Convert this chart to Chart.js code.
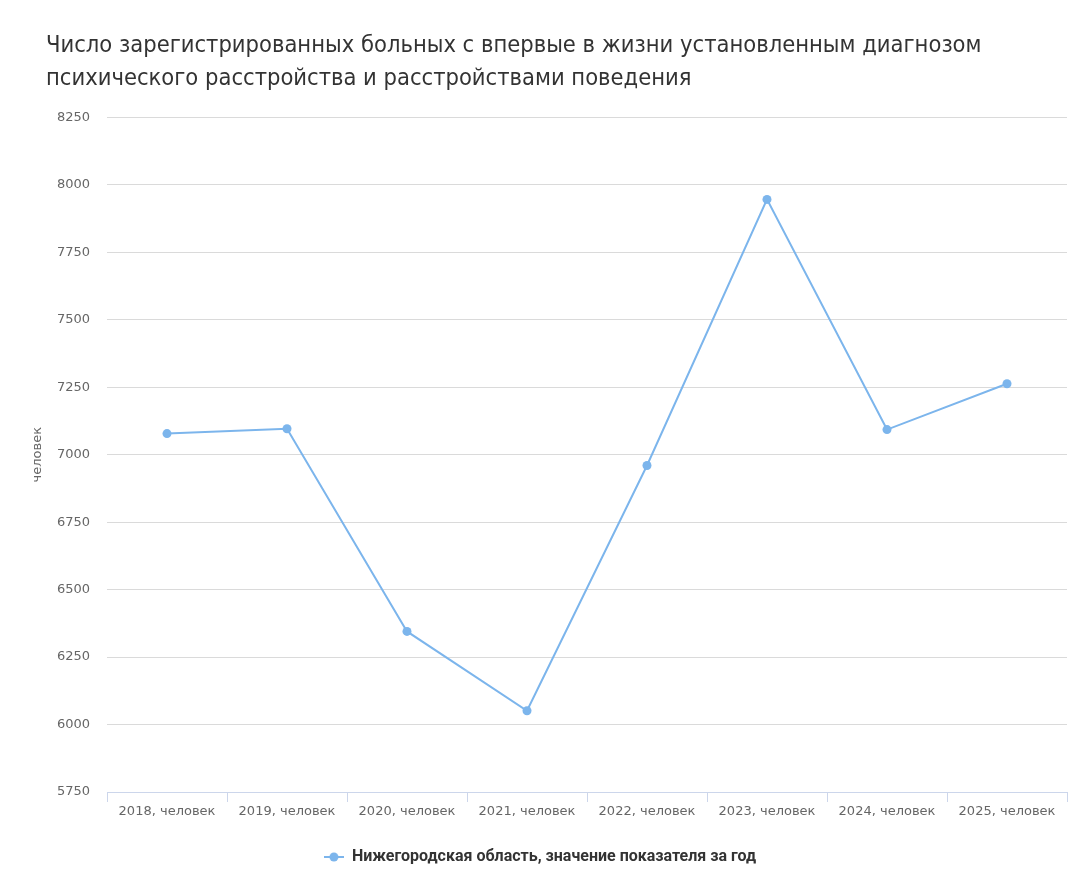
<!DOCTYPE html>
<html>
<head>
<meta charset="utf-8">
<script src="https://cdn.jsdelivr.net/npm/chart.js@4/dist/chart.umd.min.js"></script>
<style>
  html, body { margin: 0; padding: 0; background: #ffffff; }
  #wrap { width: 1080px; height: 888px; position: relative; }
</style>
</head>
<body>
<div id="wrap"><canvas id="c" width="1080" height="888"></canvas></div>
<script>
const titleLines = [
  'Число зарегистрированных больных с впервые в жизни установленным диагнозом',
  'психического расстройства и расстройствами поведения'
];
const categories = ['2018, человек', '2019, человек', '2020, человек', '2021, человек',
                    '2022, человек', '2023, человек', '2024, человек', '2025, человек'];
const values = [7078, 7096, 6345, 6051, 6960, 7946, 7093, 7263];
const seriesName = 'Нижегородская область, значение показателя за год';
const yAxisTitle = 'человек';
const yMin = 5750, yMax = 8250, yStep = 250;

const lineColor = '#7cb5ec';

// legend symbol: line with a circle (Highcharts style)
const sym = document.createElement('canvas');
sym.width = 20; sym.height = 10;
(function () {
  const g = sym.getContext('2d');
  g.strokeStyle = lineColor; g.lineWidth = 2;
  g.beginPath(); g.moveTo(0, 5); g.lineTo(20, 5); g.stroke();
  g.fillStyle = lineColor;
  g.beginPath(); g.arc(10, 5, 4.5, 0, Math.PI * 2); g.fill();
})();

// center the legend on the whole canvas
const centerLegend = {
  id: 'centerLegend',
  afterLayout(chart) {
    if (chart.legend) {
      chart.legend.left = 0;
      chart.legend.right = chart.width;
    }
  }
};

new Chart(document.getElementById('c'), {
  type: 'line',
  data: {
    labels: categories,
    datasets: [{
      label: seriesName,
      data: values,
      borderColor: lineColor,
      backgroundColor: lineColor,
      borderWidth: 2,
      pointRadius: 4.5,
      pointHoverRadius: 5,
      pointBorderWidth: 0,
      pointBackgroundColor: lineColor,
      tension: 0,
      fill: false
    }]
  },
  plugins: [centerLegend],
  options: {
    responsive: false,
    animation: false,
    devicePixelRatio: 1,
    layout: { padding: { left: 46, right: 13, top: 1, bottom: 13 } },
    plugins: {
      tooltip: { enabled: false },
      title: {
        display: true,
        text: titleLines,
        align: 'start',
        color: '#333333',
        font: { family: '"DejaVu Sans Condensed", "Liberation Sans Narrow", sans-serif', size: 23.5, weight: 'normal', lineHeight: 1.42 },
        padding: { top: 28, bottom: 21.6 }
      },
      legend: {
        position: 'bottom',
        labels: {
          usePointStyle: true,
          pointStyle: sym,
          pointStyleWidth: 20,
          color: '#333333',
          font: { family: 'Roboto, sans-serif', size: 16, weight: 'bold' },
          padding: 10
        }
      }
    },
    scales: {
      x: {
        offset: true,
        border: { display: true, color: '#ccd6eb', width: 1 },
        grid: { display: true, offset: true, drawOnChartArea: false, drawTicks: true, tickLength: 10, color: '#ccd6eb' },
        ticks: { color: '#666666', font: { family: '"DejaVu Sans", sans-serif', size: 13 }, padding: 2, maxRotation: 0, autoSkip: false },
        afterFit: (s) => { s.height = 47; }
      },
      y: {
        min: yMin,
        max: yMax,
        border: { display: false },
        grid: { color: '#dadada', lineWidth: 1, drawTicks: false },
        ticks: {
          stepSize: yStep, color: '#666666', font: { family: '"DejaVu Sans", sans-serif', size: 13 }, padding: 17,
          callback: (v) => String(v)
        },
        title: {
          display: true,
          text: yAxisTitle,
          color: '#666666',
          font: { family: '"DejaVu Sans", sans-serif', size: 13 },
          padding: { top: -16, bottom: 0 }
        },
        afterFit: (s) => { s.width = 61; }
      }
    }
  }
});
</script>
</body>
</html>
